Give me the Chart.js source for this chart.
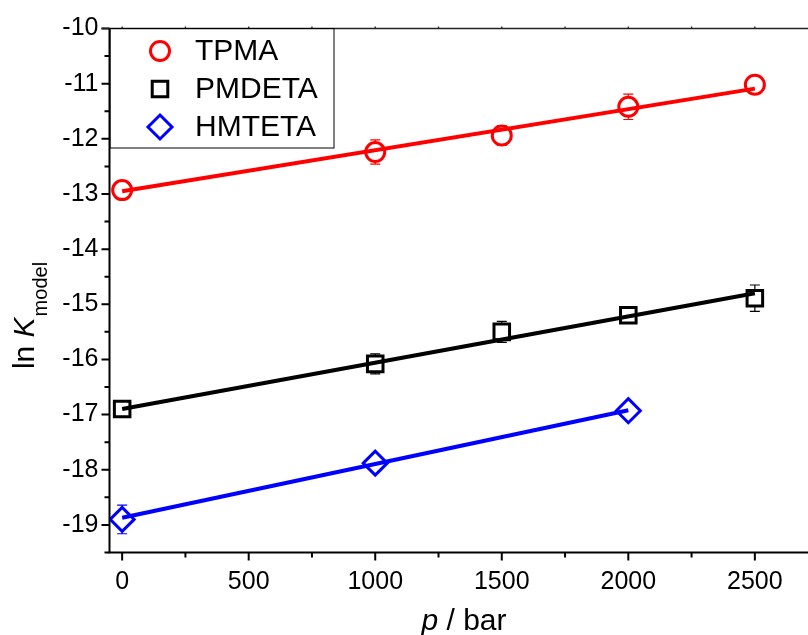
<!DOCTYPE html>
<html>
<head>
<meta charset="utf-8">
<script src="https://cdn.jsdelivr.net/npm/chart.js@4.4.0/dist/chart.umd.min.js"></script>
<style>
  html, body { margin: 0; padding: 0; background: #fff; }
  #wrap { width: 808px; height: 635px; }
</style>
</head>
<body>
<div id="wrap"><canvas id="chart" width="808" height="635"></canvas></div>
<script>
// pressure in bar
const pressure = [0, 1000, 1500, 2000, 2500]
const pressureHm = [0, 1000, 2000]

// ln K values and their error bars
const tpma = [-12.93, -12.24, -11.94, -11.42, -11.02]
const tpmaErr = [0.12, 0.22, 0.18, 0.23, 0.08]
const pmdeta = [-16.9, -16.08, -15.5, -15.2, -14.89]
const pmdetaErr = [0.08, 0.18, 0.19, 0.08, 0.24]
const hmteta = [-18.9, -17.88, -16.93]
const hmtetaErr = [0.26, 0.08, 0.08]

// linear fits, ends of each line
const tpmaFitX = [0, 2500]
const tpmaFit = [-12.95, -11.09]
const pmdetaFitX = [0, 2500]
const pmdetaFit = [-16.9, -14.8]
const hmtetaFitX = [0, 2000]
const hmtetaFit = [-18.87, -16.92]

const xTicks = [0, 500, 1000, 1500, 2000, 2500]
const yTicks = [-10, -11, -12, -13, -14, -15, -16, -17, -18, -19]

const series = [
  { name: 'TPMA', x: pressure, y: tpma, err: tpmaErr, fx: tpmaFitX, fy: tpmaFit, color: '#ff0000', style: 'circle', r: 9.5 },
  { name: 'PMDETA', x: pressure, y: pmdeta, err: pmdetaErr, fx: pmdetaFitX, fy: pmdetaFit, color: '#000000', style: 'rect', r: 11 },
  { name: 'HMTETA', x: pressureHm, y: hmteta, err: hmtetaErr, fx: hmtetaFitX, fy: hmtetaFit, color: '#0000ff', style: 'rectRot', r: 12 },
]

const pts = (xs, ys) => xs.map((x, i) => ({ x: x, y: ys[i] }))

const datasets = []
series.forEach(s => {
  datasets.push({
    label: s.name,
    data: pts(s.x, s.y),
    err: s.err,
    order: 1,
    showLine: false,
    pointStyle: s.style,
    pointRadius: s.r,
    pointHoverRadius: s.r,
    pointBorderWidth: 3,
    pointBorderColor: s.color,
    pointBackgroundColor: '#fff',
    borderColor: s.color,
  })
})
// fit lines go on top of the symbols
series.forEach(s => {
  datasets.push({
    label: s.name + ' fit',
    type: 'line',
    order: 0,
    data: pts(s.fx, s.fy),
    borderColor: s.color,
    borderWidth: 4,
    pointRadius: 0,
    fill: false,
  })
})

const FONT = "'Liberation Sans', Arial, sans-serif"

// vertical error bars with caps, drawn under the symbols
const errorBars = {
  id: 'errorBars',
  beforeDatasetsDraw(chart) {
    const ctx = chart.ctx
    const xs = chart.scales.x, ys = chart.scales.y
    chart.data.datasets.forEach((ds, i) => {
      if (!ds.err) return
      ctx.save()
      ctx.strokeStyle = ds.borderColor
      ctx.lineWidth = 1.2
      ds.data.forEach((p, j) => {
        const px = xs.getPixelForValue(p.x)
        const top = ys.getPixelForValue(p.y + ds.err[j])
        const bot = ys.getPixelForValue(p.y - ds.err[j])
        ctx.beginPath()
        ctx.moveTo(px, top); ctx.lineTo(px, bot)
        ctx.moveTo(px - 5, top); ctx.lineTo(px + 5, top)
        ctx.moveTo(px - 5, bot); ctx.lineTo(px + 5, bot)
        ctx.stroke()
      })
      ctx.restore()
    })
  }
}

// axis lines, major/minor ticks, titles and the boxed legend
const frame = {
  id: 'frame',
  afterDraw(chart) {
    const ctx = chart.ctx
    const a = chart.chartArea
    const xs = chart.scales.x, ys = chart.scales.y
    ctx.save()
    ctx.strokeStyle = '#000'
    ctx.lineWidth = 2
    ctx.beginPath()
    ctx.moveTo(a.left, a.top); ctx.lineTo(a.left, a.bottom)
    ctx.moveTo(a.left - 1, a.bottom); ctx.lineTo(a.right, a.bottom)
    ctx.stroke()

    ctx.beginPath()
    for (let v = -10; v >= -19.5; v -= 0.5) {
      const py = ys.getPixelForValue(v)
      const len = Number.isInteger(v) ? 8 : 5
      ctx.moveTo(a.left - len, py); ctx.lineTo(a.left, py)
    }
    for (let v = 0; v <= 2700; v += 250) {
      const px = xs.getPixelForValue(v)
      const len = v % 500 === 0 ? 8 : 5
      ctx.moveTo(px, a.bottom); ctx.lineTo(px, a.bottom + len)
    }
    ctx.stroke()

    // top frame line with small ticks
    ctx.lineWidth = 1.3
    ctx.strokeStyle = '#222'
    ctx.beginPath()
    ctx.moveTo(a.left - 8, a.top); ctx.lineTo(a.right, a.top)
    for (let v = 0; v <= 2700; v += 250) {
      const px = xs.getPixelForValue(v)
      ctx.moveTo(px, a.top); ctx.lineTo(px, a.top - 2)
    }
    ctx.stroke()

    // x title: p / bar
    ctx.fillStyle = '#000'
    ctx.textBaseline = 'alphabetic'
    ctx.font = 'italic 30px ' + FONT
    const pW = ctx.measureText('p').width
    ctx.font = '30px ' + FONT
    const restW = ctx.measureText(' / bar').width
    let tx = 464 - (pW + restW) / 2
    ctx.font = 'italic 30px ' + FONT
    ctx.fillText('p', tx, 630)
    ctx.font = '30px ' + FONT
    ctx.fillText(' / bar', tx + pW, 630)

    // y title: ln K_model
    ctx.save()
    ctx.translate(34, 316)
    ctx.rotate(-Math.PI / 2)
    ctx.font = '30px ' + FONT
    const lnW = ctx.measureText('ln ').width
    ctx.font = 'italic 30px ' + FONT
    const kW = ctx.measureText('K').width
    ctx.font = '20px ' + FONT
    const subW = ctx.measureText('model').width
    let sx = -(lnW + kW + subW) / 2
    ctx.font = '30px ' + FONT
    ctx.fillText('ln ', sx, 0)
    ctx.font = 'italic 30px ' + FONT
    ctx.fillText('K', sx + lnW, 0)
    ctx.font = '20px ' + FONT
    ctx.fillText('model', sx + lnW + kW + 1, 13)
    ctx.restore()

    // legend
    ctx.lineWidth = 1
    ctx.strokeStyle = '#000'
    ctx.strokeRect(a.left + 0.5, a.top, 224, 119.5)
    const rows = [51, 89, 127]
    ctx.font = '30px ' + FONT
    ctx.textBaseline = 'middle'
    series.forEach((s, i) => {
      const cy = rows[i], cx = 160
      ctx.strokeStyle = s.color
      ctx.lineWidth = 3
      ctx.beginPath()
      if (s.style === 'circle') {
        ctx.arc(cx, cy, s.r, 0, Math.PI * 2)
      } else if (s.style === 'rect') {
        const h = s.r * Math.SQRT1_2
        ctx.rect(cx - h, cy - h, 2 * h, 2 * h)
      } else {
        ctx.moveTo(cx, cy - s.r); ctx.lineTo(cx + s.r, cy)
        ctx.lineTo(cx, cy + s.r); ctx.lineTo(cx - s.r, cy)
        ctx.closePath()
      }
      ctx.stroke()
      ctx.fillStyle = '#000'
      ctx.fillText(s.name, 195, cy + 1)
    })
    ctx.restore()
  }
}

new Chart(document.getElementById('chart'), {
  type: 'scatter',
  data: { datasets: datasets },
  options: {
    responsive: false,
    animation: false,
    events: [],
    layout: { autoPadding: false, padding: { top: 28.5, right: 0, left: 0, bottom: 0 } },
    plugins: {
      legend: { display: false },
      tooltip: { enabled: false },
    },
    scales: {
      x: {
        type: 'linear',
        min: -50,
        max: 2710,
        grid: { display: false, drawTicks: false },
        border: { display: false },
        afterFit: s => { s.height = 82.5; s.paddingLeft = 0; s.paddingRight = 0 },
        afterBuildTicks: s => { s.ticks = xTicks.map(v => ({ value: v })) },
        ticks: {
          color: '#000',
          padding: 15,
          maxRotation: 0,
          font: { family: FONT, size: 25 },
          callback: v => String(v),
        },
      },
      y: {
        type: 'linear',
        min: -19.5,
        max: -10,
        grid: { display: false, drawTicks: false },
        border: { display: false },
        afterFit: s => { s.width = 109.5 },
        afterBuildTicks: s => { s.ticks = yTicks.map(v => ({ value: v })) },
        ticks: {
          color: '#000',
          padding: 11,
          font: { family: FONT, size: 25 },
          callback: v => String(v),
        },
      },
    },
  },
  plugins: [errorBars, frame],
})
</script>
</body>
</html>
